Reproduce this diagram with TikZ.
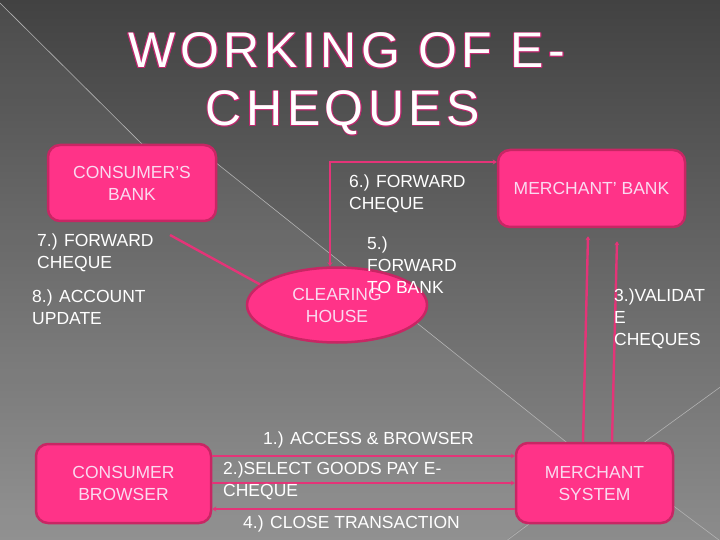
\documentclass[tikz,border=0pt]{standalone}
\usepackage{fontspec}
\setmainfont{Liberation Sans}
\newfontfamily\titlefont[LetterSpace=9]{Liberation Sans}
\usetikzlibrary{shapes.geometric,arrows.meta,calc}
\definecolor{boxpink}{RGB}{255,51,136}
\definecolor{boxedge}{RGB}{200,38,100}
\definecolor{boxtext}{RGB}{250,218,240}
\definecolor{linkpink}{RGB}{228,52,120}
\definecolor{titleedge}{RGB}{190,40,110}
\definecolor{bgtop}{RGB}{66,66,66}
\definecolor{bgbot}{RGB}{140,140,140}
\definecolor{raycol}{RGB}{178,178,178}
\begin{document}
\begin{tikzpicture}[x=1pt,y=-1pt,
  pinkbox/.style={draw=boxedge, line width=2.5pt, fill=boxpink, rounded corners=12pt, text=boxtext, font=\fontsize{17.5}{22}\selectfont, align=center, inner sep=0pt},
  lbl/.style={text=white, font=\fontsize{17.5}{22}\selectfont, inner sep=0pt},
  conn/.style={draw=linkpink, line width=2.4pt},
  arrR/.style={-{Stealth[length=4pt,width=5pt]}},
  arrL/.style={{Stealth[length=4pt,width=5pt]}-},
  arrB/.style={{Stealth[length=4pt,width=5pt]}-{Stealth[length=4pt,width=5pt]}},
  raylin/.style={draw=raycol, line width=0.6pt},
  ttl/.style={font=\titlefont\fontsize{50}{58}\selectfont, inner sep=0pt}]
\useasboundingbox (0,0) rectangle (720,540);
\shade[top color=bgtop, bottom color=bgbot] (0,0) rectangle (720,540);
\begin{scope}
\clip (0,0) rectangle (720,540);
\fill[white, opacity=0.05] (0,3) -- (140,142) -- (210,158) -- (595,465) -- (500,545) -- (0,545) -- cycle;
\draw[raylin] (0,3) -- (150,152);
\draw[raylin] (200,150) -- (595,465);
\draw[raylin] (730,380) -- (595,478);
\draw[raylin] (600,451) -- (735,552);
\draw[raylin] (595,475) -- (490,553);
\end{scope}

% title
\foreach \dx/\dy in {-0.9/0,0.9/0,0/-0.9,0/0.9,-0.7/-0.7,0.7/0.7,-0.7/0.7,0.7/-0.7}{
  \node[ttl, text=titleedge, anchor=base] at (347+\dx,68+\dy) {WORKING OF E-};
  \node[ttl, text=titleedge, anchor=base] at (343+\dx,126+\dy) {CHEQUES};
}
\node[ttl, text=white, anchor=base] (t1) at (347,68) {WORKING OF E-};
\node[ttl, text=white, anchor=base] (t2) at (343,126) {CHEQUES};

% boxes
\node[pinkbox, minimum width=168pt, minimum height=76pt] (cb) at (132,183) {CONSUMER’S\\BANK};
\node[pinkbox, minimum width=187pt, minimum height=77pt] (mb) at (591.5,188.5) {MERCHANT’ BANK};
\node[pinkbox, minimum width=175pt, minimum height=79pt] (cbr) at (123.5,483.5) {CONSUMER\\BROWSER};
\node[pinkbox, minimum width=157pt, minimum height=80pt] (ms) at (594.5,483) {MERCHANT\\SYSTEM};
\node[ellipse, draw=boxedge, line width=2.5pt, fill=boxpink, text=boxtext, font=\fontsize{17.5}{22}\selectfont, align=center, minimum width=180pt, minimum height=75pt, inner sep=0pt] (ch) at (337,305) {CLEARING\\HOUSE};

% connectors
\coordinate (p7) at (170,235);
\draw[conn] (p7) -- (ch.165);
\coordinate (e6) at (330,162);
\draw[conn, arrB] (ch.north -| e6) |- (mb.west |- e6);
\draw[conn, arrR] ([xshift=-11.5pt]ms.north) -- ([xshift=-3.5pt,yshift=-8pt]mb.south);
\draw[conn, arrR] ([xshift=17.5pt]ms.north) -- ([xshift=25.5pt,yshift=-13pt]mb.south);
\coordinate (h1) at (0,456);
\coordinate (h2) at (0,483);
\coordinate (h3) at (0,509);
\draw[conn, arrR] (cbr.east |- h1) -- (ms.west |- h1);
\draw[conn, arrR] (cbr.east |- h2) -- (ms.west |- h2);
\draw[conn, arrL] (cbr.east |- h3) -- (ms.west |- h3);

% labels
\node[lbl, align=left, anchor=west] (l6) at (349,194) {6.) FORWARD\\CHEQUE};
\node[lbl, align=left, anchor=west] (l5) at (367,265) {5.)\\FORWARD\\TO BANK};
\node[lbl, align=left, anchor=west] (l7) at (37,253) {7.) FORWARD\\CHEQUE};
\node[lbl, align=left, anchor=west] (l8) at (32,307) {8.) ACCOUNT\\UPDATE};
\node[lbl, align=left, anchor=west] (l3) at (614,318.5) {3.)VALIDAT\\E\\CHEQUES};
\node[lbl] (l1) at (368.5,440) {1.) ACCESS \& BROWSER};
\node[lbl, align=left, anchor=west] (l2) at (223,481) {2.)SELECT GOODS PAY E-\\CHEQUE};
\node[lbl] (l4) at (351.5,524) {4.) CLOSE TRANSACTION};
\end{tikzpicture}
\end{document}
